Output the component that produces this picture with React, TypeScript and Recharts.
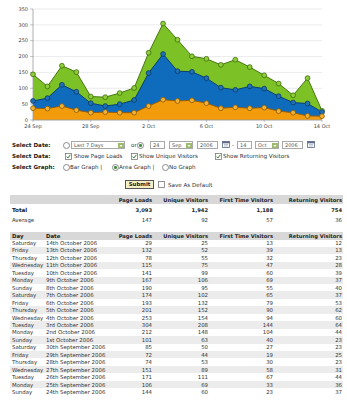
import React from "react";
import { AreaChart, Area, XAxis, YAxis, CartesianGrid } from "recharts";

// chronological order, 24 Sep .. 14 Oct 2006
const shortDates = [
  "24 Sep", "25 Sep", "26 Sep", "27 Sep", "28 Sep", "29 Sep", "30 Sep",
  "1 Oct", "2 Oct", "3 Oct", "4 Oct", "5 Oct", "6 Oct", "7 Oct",
  "8 Oct", "9 Oct", "10 Oct", "11 Oct", "12 Oct", "13 Oct", "14 Oct"
];
const longDates = [
  "24th September 2006", "25th September 2006", "26th September 2006", "27th September 2006",
  "28th September 2006", "29th September 2006", "30th September 2006", "1st October 2006",
  "2nd October 2006", "3rd October 2006", "4th October 2006", "5th October 2006",
  "6th October 2006", "7th October 2006", "8th October 2006", "9th October 2006",
  "10th October 2006", "11th October 2006", "12th October 2006", "13th October 2006",
  "14th October 2006"
];
const weekdays = [
  "Sunday", "Monday", "Tuesday", "Wednesday", "Thursday", "Friday", "Saturday",
  "Sunday", "Monday", "Tuesday", "Wednesday", "Thursday", "Friday", "Saturday",
  "Sunday", "Monday", "Tuesday", "Wednesday", "Thursday", "Friday", "Saturday"
];
const pageLoads = [144, 106, 171, 151, 74, 72, 85, 101, 212, 304, 253, 201, 193, 174, 190, 167, 141, 115, 78, 132, 29];
const uniqueVisitors = [60, 69, 111, 89, 53, 44, 50, 63, 148, 208, 154, 152, 132, 102, 95, 106, 99, 75, 55, 52, 25];
const firstTimeVisitors = [23, 33, 67, 58, 30, 19, 27, 40, 104, 144, 94, 90, 79, 65, 55, 69, 60, 47, 32, 39, 13];
const returningVisitors = [37, 36, 44, 31, 23, 25, 23, 23, 44, 64, 60, 62, 53, 37, 40, 37, 39, 28, 23, 13, 12];

const yTicks = [0, 50, 100, 150, 200, 250, 300, 350];
const minorTicks = [
  0, 10, 20, 30, 40, 50, 60, 70, 80, 90, 100, 110, 120, 130, 140, 150, 160, 170,
  180, 190, 200, 210, 220, 230, 240, 250, 260, 270, 280, 290, 300, 310, 320, 330, 340, 350
];
const columns = ["Page Loads", "Unique Visitors", "First Time Visitors", "Returning Visitors"];
const colRight = [152, 208, 273, 342];

const chartData = shortDates.map((date, i) => ({
  date,
  pageLoads: pageLoads[i],
  unique: uniqueVisitors[i],
  returning: returningVisitors[i]
}));

const sum = (a: number[]) => a.reduce((s, v) => s + v, 0);
const series = [pageLoads, uniqueVisitors, firstTimeVisitors, returningVisitors];
const totals = series.map((s) => sum(s).toLocaleString("en-US"));
const averages = series.map((s) => String(Math.round(sum(s) / s.length)));

const FONT = '"DejaVu Sans", Verdana, sans-serif';
const W = 347;

function Txt({ x, y, right, bold, size = 5.6, color = "#333", children }: any) {
  const st: React.CSSProperties = {
    position: "absolute",
    top: y - 4,
    lineHeight: "8px",
    fontSize: size,
    fontWeight: bold ? 700 : 400,
    color,
    whiteSpace: "nowrap"
  };
  if (right !== undefined) {
    st.right = W - right;
    st.textAlign = "right";
  } else {
    st.left = x;
  }
  return <div style={st}>{children}</div>;
}

function Radio({ cx, cy, on }: { cx: number; cy: number; on?: boolean }) {
  return (
    <div style={{ position: "absolute", left: cx - 3, top: cy - 3, width: 5, height: 5, borderRadius: "50%", border: "0.8px solid #8a8a8a", background: "#fff" }}>
      {on && <div style={{ position: "absolute", left: 1.2, top: 1.2, width: 2.6, height: 2.6, borderRadius: "50%", background: "#3f8f3f" }} />}
    </div>
  );
}

function Check({ x, cy, on = true }: { x: number; cy: number; on?: boolean }) {
  return (
    <svg style={{ position: "absolute", left: x, top: cy - 3.5 }} width={7} height={7}>
      <rect x={0.5} y={0.5} width={6} height={6} fill="#fff" stroke="#7a7a7a" strokeWidth={0.8} />
      {on && <polyline points="1.6,3.6 2.9,5 5.4,1.8" fill="none" stroke="#2f7a2f" strokeWidth={1} />}
    </svg>
  );
}

function Field({ x, cy, w, text, drop }: { x: number; cy: number; w: number; text: string; drop?: boolean }) {
  return (
    <div style={{ position: "absolute", left: x, top: cy - 4, width: w, height: 8, boxSizing: "border-box", border: "0.8px solid #a8a8a8", background: "#fff" }}>
      <div style={{ position: "absolute", left: 2, top: 0, lineHeight: "7px", fontSize: 5, color: "#555", whiteSpace: "nowrap" }}>{text}</div>
      {drop && (
        <div style={{ position: "absolute", right: 0.5, top: 0.5, width: 6, height: 5.5, background: "#9cbb6c" }}>
          <svg width={6} height={5.5} style={{ position: "absolute", left: 0, top: 0 }}>
            <polygon points="1.5,2 4.5,2 3,4" fill="#fff" />
          </svg>
        </div>
      )}
    </div>
  );
}

function Cal({ x, cy }: { x: number; cy: number }) {
  return (
    <svg style={{ position: "absolute", left: x, top: cy - 4 }} width={8} height={7}>
      <rect x={0.5} y={0.5} width={7} height={6} fill="#fff" stroke="#5a6a88" strokeWidth={0.8} />
      <rect x={0.5} y={0.5} width={7} height={1.8} fill="#5a6a88" />
      <line x1={2} y1={3.5} x2={6} y2={3.5} stroke="#8a96b0" strokeWidth={0.6} />
      <line x1={2} y1={5} x2={6} y2={5} stroke="#8a96b0" strokeWidth={0.6} />
    </svg>
  );
}

function Chart() {
  return (
    <AreaChart width={347} height={132} data={chartData} margin={{ top: 9, right: 25, left: 0, bottom: 0 }}>
      <CartesianGrid vertical={false} stroke="#e6e6e6" strokeWidth={0.8} />
      <YAxis
        yAxisId="minor"
        width={0}
        domain={[0, 350]}
        ticks={minorTicks}
        interval={0}
        tick={false}
        tickSize={1.5}
        axisLine={false}
        tickLine={{ stroke: "#aaa", strokeWidth: 0.6 }}
      />
      <YAxis
        width={33}
        domain={[0, 350]}
        ticks={yTicks}
        interval={0}
        tickSize={3}
        axisLine={{ stroke: "#999", strokeWidth: 0.8 }}
        tickLine={{ stroke: "#999", strokeWidth: 0.6 }}
        tick={{ fontSize: 5, fill: "#444", fontFamily: FONT }}
      />
      <XAxis
        dataKey="date"
        scale="point"
        interval={3}
        height={12}
        tickSize={2}
        axisLine={{ stroke: "#999", strokeWidth: 0.8 }}
        tickLine={{ stroke: "#999", strokeWidth: 0.6 }}
        tick={{ fontSize: 5, fill: "#444", fontFamily: FONT }}
      />
      <Area
        type="linear"
        dataKey="pageLoads"
        fill="#7cc126"
        fillOpacity={1}
        stroke="#46780f"
        strokeWidth={1}
        dot={{ r: 2.4, fill: "#8fce3a", stroke: "#3f6e0c", strokeWidth: 0.8 }}
        activeDot={false}
        isAnimationActive={false}
      />
      <Area
        type="linear"
        dataKey="unique"
        fill="#0f6cbd"
        fillOpacity={1}
        stroke="#0a3f72"
        strokeWidth={1}
        dot={{ r: 2.4, fill: "#1f70b8", stroke: "#0a3a68", strokeWidth: 0.8 }}
        activeDot={false}
        isAnimationActive={false}
      />
      <Area
        type="linear"
        dataKey="returning"
        fill="#f29c0c"
        fillOpacity={1}
        stroke="#9a5e08"
        strokeWidth={1}
        dot={{ r: 2.4, fill: "#f3b233", stroke: "#8a5a08", strokeWidth: 0.8 }}
        activeDot={false}
        isAnimationActive={false}
      />
    </AreaChart>
  );
}

export default function App() {
  const rowsTop = 243;
  const rowStep = 7.45;
  const order = shortDates.map((_, i) => shortDates.length - 1 - i);
  return (
    <div style={{ position: "fixed", left: 0, top: 0, width: W, height: 400, background: "#fff", overflow: "hidden", fontFamily: FONT, color: "#333" }}>
      <div style={{ position: "absolute", left: 0, top: 0 }}>
        <Chart />
      </div>

      {/* Select Date */}
      <Txt x={12} y={145} bold color="#222">Select Date:</Txt>
      <Radio cx={66} cy={145} />
      <Field x={71} cy={145} w={54} text="Last 7 Days" drop />
      <Txt x={131} y={145}>or</Txt>
      <Radio cx={140} cy={145} on />
      <Field x={150} cy={145} w={15} text="24" />
      <Field x={169} cy={145} w={24} text="Sep" drop />
      <Field x={197} cy={145} w={21} text="2006" />
      <Cal x={222} cy={145} />
      <Txt x={232} y={145}>-</Txt>
      <Field x={237} cy={145} w={15} text="14" />
      <Field x={255} cy={145} w={24} text="Oct" drop />
      <Field x={282} cy={145} w={21} text="2006" />
      <Cal x={307} cy={145} />

      {/* Select Data */}
      <Txt x={12} y={156} bold color="#222">Select Data:</Txt>
      <Check x={65} cy={156} />
      <Txt x={74} y={156}>Show Page Loads</Txt>
      <Check x={131} cy={156} />
      <Txt x={139} y={156}>Show Unique Visitors</Txt>
      <Check x={215} cy={156} />
      <Txt x={223} y={156}>Show Returning Visitors</Txt>

      {/* Select Graph */}
      <Txt x={12} y={167} bold color="#222">Select Graph:</Txt>
      <Radio cx={66} cy={167} />
      <Txt x={70} y={167}>Bar Graph |</Txt>
      <Radio cx={115} cy={167} on />
      <Txt x={119} y={167}>Area Graph |</Txt>
      <Radio cx={165} cy={167} />
      <Txt x={169} y={167}>No Graph</Txt>

      {/* Submit */}
      <div style={{ position: "absolute", left: 125, top: 180, width: 29, height: 9, boxSizing: "border-box", border: "0.8px solid #555", background: "#f6efc6", fontSize: 5.4, fontWeight: 700, lineHeight: "7.5px", textAlign: "center", color: "#222" }}>Submit</div>
      <Check x={158} cy={184.5} on={false} />
      <Txt x={168} y={184.5}>Save As Default</Txt>

      {/* Totals table */}
      <div style={{ position: "absolute", left: 10, top: 195, width: 333, height: 8.5, background: "#d8d8d8" }} />
      {columns.map((c, j) => (
        <Txt key={c} right={colRight[j]} y={199.5} bold size={5.2} color="#222">{c}</Txt>
      ))}
      <Txt x={12} y={210} bold size={5.6} color="#222">Total</Txt>
      {totals.map((t, j) => (
        <Txt key={"t" + j} right={colRight[j]} y={210} bold size={5.2} color="#222">{t}</Txt>
      ))}
      <Txt x={12} y={220} size={5.4}>Average</Txt>
      {averages.map((t, j) => (
        <Txt key={"a" + j} right={colRight[j]} y={220} size={5.4}>{t}</Txt>
      ))}

      {/* Daily table */}
      <div style={{ position: "absolute", left: 10, top: 231.5, width: 333, height: 8.5, background: "#d8d8d8" }} />
      <Txt x={12} y={236} bold size={5.4} color="#222">Day</Txt>
      <Txt x={46} y={236} bold size={5.4} color="#222">Date</Txt>
      {columns.map((c, j) => (
        <Txt key={"h" + c} right={colRight[j]} y={236} bold size={5.2} color="#222">{c}</Txt>
      ))}
      {order.map((idx, r) => {
        const cy = rowsTop + r * rowStep;
        const vals = [pageLoads[idx], uniqueVisitors[idx], firstTimeVisitors[idx], returningVisitors[idx]];
        return (
          <React.Fragment key={idx}>
            {r % 2 === 1 && (
              <div style={{ position: "absolute", left: 10, top: cy - rowStep / 2, width: 333, height: rowStep, background: "#ececec" }} />
            )}
            <Txt x={12} y={cy} size={5.4}>{weekdays[idx]}</Txt>
            <Txt x={46} y={cy} size={5.4}>{longDates[idx]}</Txt>
            {vals.map((v, j) => (
              <Txt key={j} right={colRight[j]} y={cy} size={5.4}>{v}</Txt>
            ))}
          </React.Fragment>
        );
      })}
    </div>
  );
}
